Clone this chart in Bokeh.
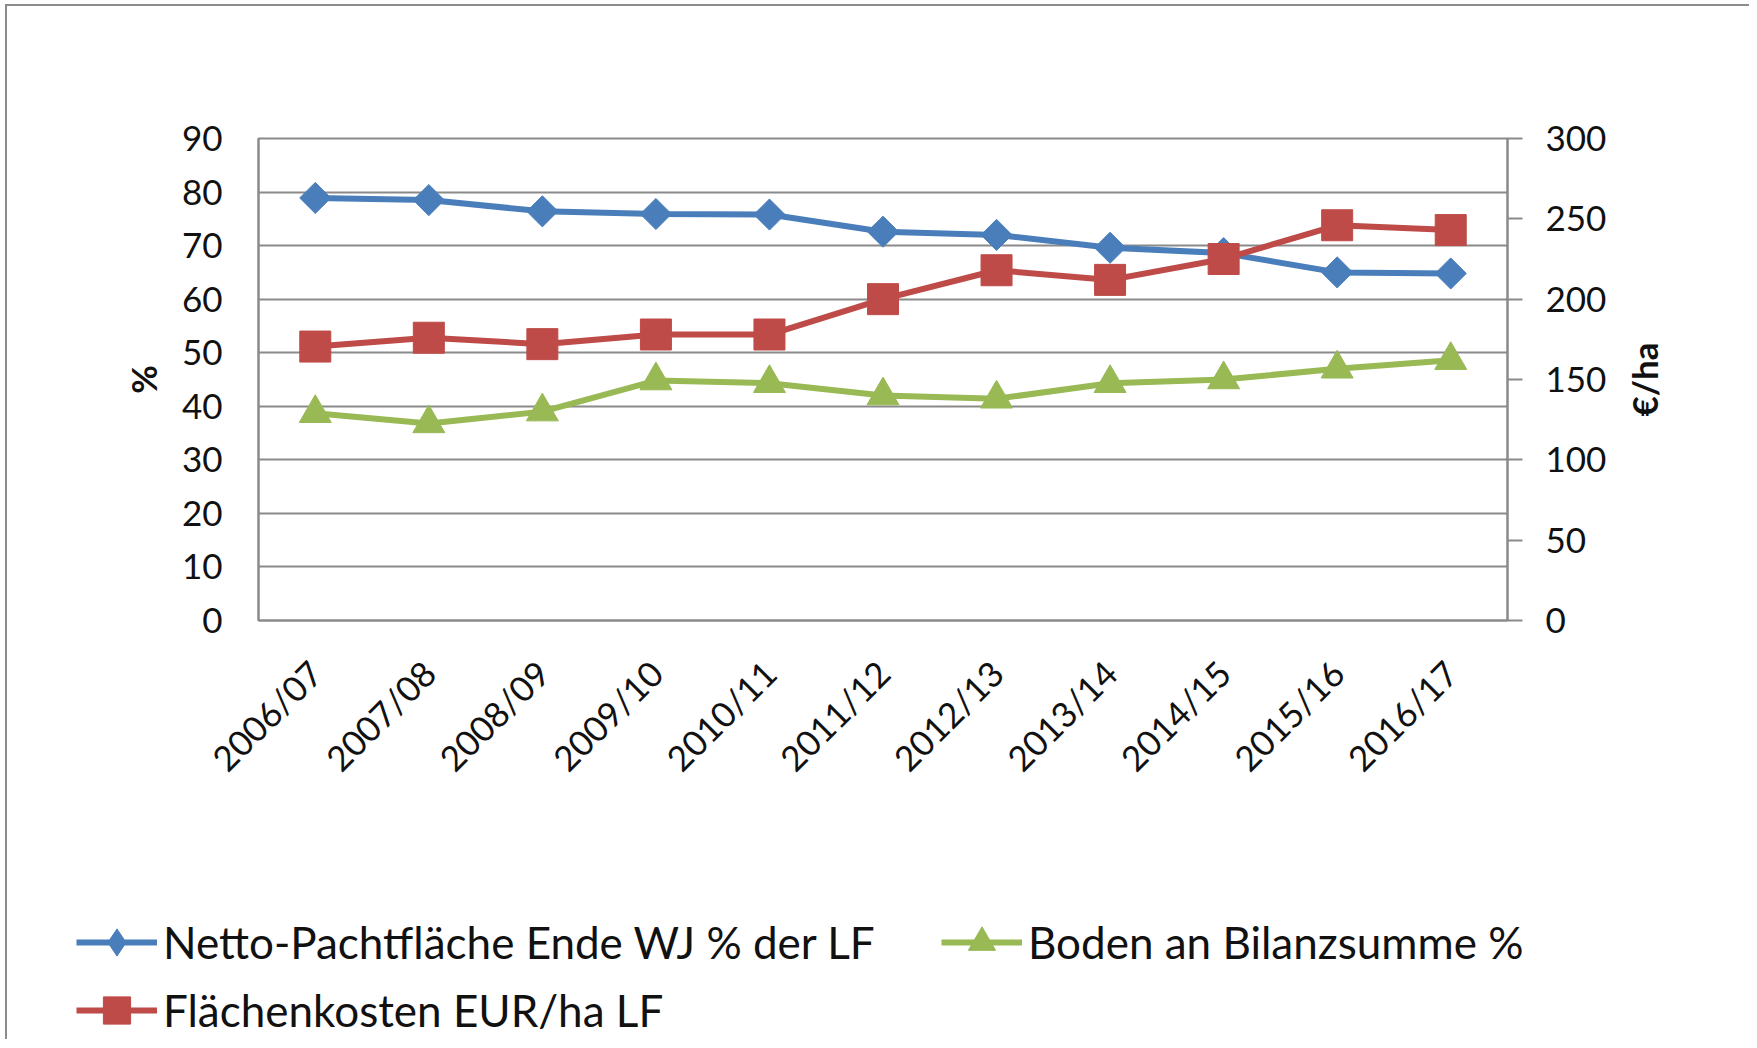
import math
from bokeh.plotting import figure
from bokeh.layouts import column, row
from bokeh.models import (FactorRange, Range1d, LinearAxis, FixedTicker,
                          Legend, LegendItem, Label)
from bokeh.embed import file_html
from bokeh.resources import INLINE

# ---- data ----
years = ["2006/07", "2007/08", "2008/09", "2009/10", "2010/11", "2011/12",
         "2012/13", "2013/14", "2014/15", "2015/16", "2016/17"]
netto = [78.9, 78.5, 76.4, 75.9, 75.8, 72.6, 72.0, 69.6, 68.6, 65.0, 64.8]
boden = [38.7, 36.8, 39.0, 44.8, 44.3, 42.0, 41.4, 44.3, 45.0, 47.0, 48.6]
kosten = [170.5, 176.0, 172.0, 178.0, 178.0, 200.0, 218.0, 212.0, 225.0, 246.0, 243.0]
left_ticks = [0, 10, 20, 30, 40, 50, 60, 70, 80, 90]
right_ticks = [0, 50, 100, 150, 200, 250, 300]

name_netto = "Netto-Pachtfläche Ende WJ % der LF"
name_boden = "Boden an Bilanzsumme %"
name_kosten = "Flächenkosten EUR/ha LF"
title_left = "%"
title_right = "€/ha"

FONT = "Lato"
GRID = "#8a8a8a"
TXT = "#111111"
BLUE = "#4A7EBB"
RED = "#BE4B48"
GREEN = "#98B954"

P_H = 814

p = figure(x_range=FactorRange(*years), y_range=Range1d(0, 90),
           frame_width=1249, frame_height=482,
           min_border_left=251, min_border_right=115,
           min_border_top=132, min_border_bottom=200,
           output_backend="svg", toolbar_location=None, tools="")
p.frame_align = False
p.extra_y_ranges = {"eur": Range1d(0, 300)}
p.background_fill_color = "white"
p.border_fill_color = "white"
p.outline_line_color = GRID
p.outline_line_width = 2

# grid
p.xgrid.grid_line_color = None
p.ygrid.ticker = FixedTicker(ticks=left_ticks)
p.ygrid.grid_line_color = GRID
p.ygrid.grid_line_width = 2

# x axis
xa = p.xaxis[0]
xa.major_label_orientation = math.pi / 4
xa.major_tick_line_color = None
xa.minor_tick_line_color = None
xa.axis_line_color = GRID
xa.axis_line_width = 2
xa.major_label_text_font = FONT
xa.major_label_text_font_size = "35px"
xa.major_label_text_color = TXT
xa.major_label_standoff = 40

# left axis
ya = p.yaxis[0]
ya.ticker = FixedTicker(ticks=left_ticks)
ya.major_tick_line_color = None
ya.minor_tick_line_color = None
ya.axis_line_color = GRID
ya.axis_line_width = 2
ya.major_label_text_font = FONT
ya.major_label_text_font_size = "35px"
ya.major_label_text_color = TXT
ya.major_label_standoff = 30
ya.axis_label = title_left
ya.axis_label_text_font = FONT
ya.axis_label_text_font_size = "35px"
ya.axis_label_text_font_style = "bold"
ya.axis_label_text_color = TXT
ya.axis_label_standoff = 15

# right axis
ra = LinearAxis(y_range_name="eur", ticker=FixedTicker(ticks=right_ticks))
ra.major_tick_out = 15
ra.major_tick_in = 0
ra.major_tick_line_color = GRID
ra.major_tick_line_width = 2
ra.minor_tick_line_color = None
ra.axis_line_color = GRID
ra.axis_line_width = 2
ra.major_label_text_font = FONT
ra.major_label_text_font_size = "35px"
ra.major_label_text_color = TXT
ra.major_label_standoff = 23
p.add_layout(ra, "right")

# series
p.line(years, netto, line_width=6, color=BLUE)
p.scatter(years, netto, marker="square", angle=math.pi / 4, size=22, color=BLUE)
p.line(years, boden, line_width=6, color=GREEN)
p.scatter(years, boden, marker="triangle", size=32, color=GREEN)
p.line(years, kosten, line_width=6, color=RED, y_range_name="eur")
p.scatter(years, kosten, marker="square", size=31, color=RED, y_range_name="eur")

# ---- right title strip (reads bottom-to-top, centred on the plot frame) ----
r = figure(width=127, height=P_H, x_range=Range1d(0, 1), y_range=Range1d(0, 1),
           x_axis_location=None, y_axis_location=None, min_border=0,
           output_backend="svg", toolbar_location=None, tools="")
r.frame_align = False
r.grid.visible = False
r.outline_line_color = None
r.border_fill_color = "white"
r.add_layout(Label(x=21, y=P_H - 373, x_units="screen", y_units="screen",
                   text=title_right, angle=math.pi / 2,
                   text_align="center", text_baseline="middle",
                   text_font=FONT, text_font_size="35px",
                   text_font_style="bold", text_color=TXT))

# ---- legend strip (same series; y range keeps the marks out of view) ----
Q_H = 219
q = figure(x_range=p.x_range, y_range=Range1d(-2, -1), width=1742, height=Q_H,
           x_axis_location=None, y_axis_location=None, min_border=0,
           output_backend="svg", toolbar_location=None, tools="")
q.frame_align = False
q.grid.visible = False
q.outline_line_color = None
q.background_fill_color = "white"
q.border_fill_color = "white"
bl = q.line(years, netto, line_width=6, color=BLUE)
bd = q.scatter(years, netto, marker="diamond", size=20, color=BLUE)
gl = q.line(years, boden, line_width=6, color=GREEN)
gm = q.scatter(years, boden, marker="triangle", size=32, color=GREEN)
rl = q.line(years, kosten, line_width=6, color=RED)
rm = q.scatter(years, kosten, marker="square", size=31, color=RED)

legend = Legend(items=[LegendItem(label=name_netto, renderers=[bl, bd]),
                       LegendItem(label=name_boden, renderers=[gl, gm]),
                       LegendItem(label=name_kosten, renderers=[rl, rm])],
                location=(69, Q_H - 224), orientation="horizontal", ncols=2,
                glyph_width=81, glyph_height=68, label_standoff=6,
                label_width=778, padding=0, margin=0, spacing=0,
                border_line_color=None, background_fill_alpha=0,
                label_text_font=FONT, label_text_font_size="44px",
                label_text_color=TXT)
q.add_layout(legend, "center")

layout = column(row(p, r, spacing=0), q, spacing=0)
layout.styles = {"margin-top": "4px", "margin-left": "5px",
                 "border-top": "2px solid #8c8c8c", "border-left": "2px solid #8c8c8c"}

open("out.html", "w").write(file_html(layout, INLINE))
